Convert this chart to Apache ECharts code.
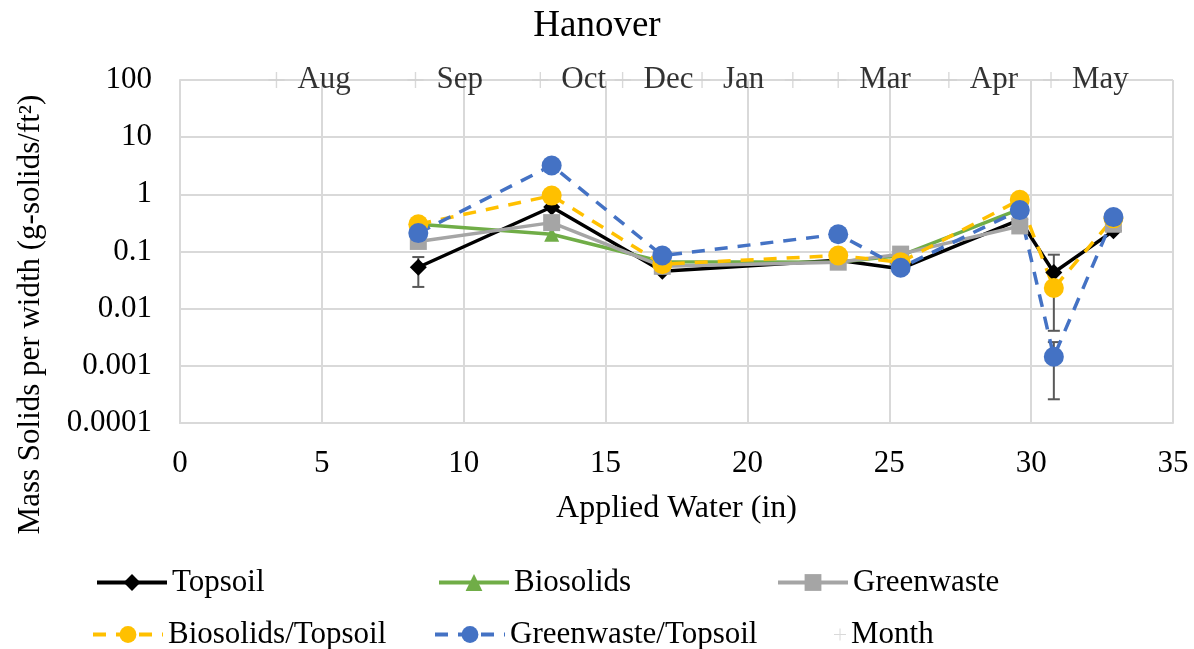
<!DOCTYPE html>
<html>
<head>
<meta charset="utf-8">
<script src="https://cdn.jsdelivr.net/npm/echarts@6/dist/echarts.min.js"></script>
<style>
  html, body { margin: 0; padding: 0; background: #fff; }
  #hanover { width: 1194px; height: 649px; }
</style>
</head>
<body>
<div id="hanover"></div>
<script>
// applied water (in) for each sampling event
const waterIn = [8.4, 13.1, 17.0, 23.2, 25.4, 29.6, 30.8, 32.9];
// mass solids per width (g-solids/ft2)
const topsoil = [0.053, 0.6, 0.045, 0.07, 0.05, 0.36, 0.043, 0.23];
const biosolids = [0.3, 0.2, 0.066, 0.065, 0.085, 0.55, null, 0.3];
const greenwaste = [0.15, 0.32, 0.055, 0.065, 0.09, 0.28, null, 0.3];
const biosolidsTopsoil = [0.3, 0.95, 0.06, 0.085, 0.065, 0.8, 0.023, 0.38];
const greenwasteTopsoil = [0.21, 3.2, 0.085, 0.2, 0.052, 0.53, 0.00144, 0.4];
// error bars: [x, low, high]
const errTopsoil = [[8.4, 0.024, 0.08], [30.8, 0.0041, 0.088]];
const errGreenwasteTopsoil = [[30.8, 0.00026, 0.0026]];
// month markers along the top
const monthX = [3.4, 8.3, 12.7, 15.6, 18.4, 21.6, 23.2, 27.1, 30.7];
const monthLabels = ['Aug', 'Sep', 'Oct', 'Dec', 'Jan', '', 'Mar', 'Apr', 'May'];
const yTickLabels = { '-4': '0.0001', '-3': '0.001', '-2': '0.01', '-1': '0.1', '0': '1', '1': '10', '2': '100' };

const FONT = '"Liberation Serif", "Times New Roman", serif';
const plusPath = 'path://M6.4,0h1.2v6.4h6.4v1.2h-6.4v6.4h-1.2v-6.4h-6.4v-1.2h6.4z';

function pairs(ys) {
  return waterIn.map((x, i) => [x, ys[i]]);
}

function errorSeries(data) {
  return {
    type: 'custom',
    z: 1,
    silent: true,
    data: data,
    encode: { x: 0, y: [1, 2] },
    renderItem: function (params, api) {
      const lo = api.coord([api.value(0), api.value(1)]);
      const hi = api.coord([api.value(0), api.value(2)]);
      const w = 6;
      const style = { stroke: '#595959', lineWidth: 2 };
      return {
        type: 'group',
        children: [
          { type: 'line', shape: { x1: lo[0], y1: lo[1], x2: hi[0], y2: hi[1] }, style: style },
          { type: 'line', shape: { x1: lo[0] - w, y1: lo[1], x2: lo[0] + w, y2: lo[1] }, style: style },
          { type: 'line', shape: { x1: hi[0] - w, y1: hi[1], x2: hi[0] + w, y2: hi[1] }, style: style }
        ]
      };
    }
  };
}

function lineSeries(name, ys, color, symbol, size, dashed) {
  return {
    name: name,
    type: 'line',
    z: 3,
    data: pairs(ys),
    connectNulls: false,
    symbol: symbol,
    symbolSize: size,
    itemStyle: { color: color },
    lineStyle: { color: color, width: 3.5, type: dashed ? [13, 10] : 'solid' }
  };
}

function legendAt(name, left, top, w) {
  return {
    data: [name],
    left: left,
    top: top,
    itemWidth: w || 70,
    itemHeight: 21,
    itemGap: 0,
    lineStyle: { width: 4 },
    textStyle: { fontFamily: FONT, fontSize: 31, color: '#000' },
    selectedMode: false
  };
}

const chart = echarts.init(document.getElementById('hanover'));
chart.setOption({
  animation: false,
  textStyle: { fontFamily: FONT },
  title: {
    text: 'Hanover',
    left: 'center',
    top: 3,
    textStyle: { fontFamily: FONT, fontSize: 37, fontWeight: 'normal', color: '#000' }
  },
  grid: { left: 180, right: 21, top: 80, bottom: 226, outerBoundsMode: 'none', containLabel: false },
  legend: [
    legendAt('Topsoil', 90, 562),
    legendAt('Biosolids', 432, 562),
    legendAt('Greenwaste', 771, 562),
    legendAt('Biosolids/Topsoil', 86, 614),
    legendAt('Greenwaste/Topsoil', 428, 614),
    legendAt('Month', 829, 614, 12)
  ],
  xAxis: {
    type: 'value',
    min: 0,
    max: 35,
    interval: 5,
    name: 'Applied Water (in)',
    nameLocation: 'middle',
    nameGap: 70,
    nameTextStyle: { fontFamily: FONT, fontSize: 32, color: '#000' },
    axisLine: { show: true, lineStyle: { color: '#d9d9d9', width: 2 } },
    axisTick: { show: false },
    axisLabel: { fontFamily: FONT, fontSize: 31, color: '#000', margin: 25 },
    splitLine: { show: true, lineStyle: { color: '#d9d9d9', width: 2 } }
  },
  yAxis: {
    type: 'log',
    logBase: 10,
    min: 0.0001,
    max: 100,
    name: 'Mass Solids per width (g-solids/ft²)',
    nameLocation: 'middle',
    nameGap: 134,
    nameTextStyle: { fontFamily: FONT, fontSize: 31, color: '#000', padding: [0, 126, 0, 0] },
    axisLine: { show: true, lineStyle: { color: '#d9d9d9', width: 2 } },
    axisTick: { show: false },
    axisLabel: {
      fontFamily: FONT,
      fontSize: 31,
      color: '#000',
      margin: 28,
      formatter: v => yTickLabels[String(Math.round(Math.log10(v)))] || ''
    },
    splitLine: { show: true, lineStyle: { color: '#d9d9d9', width: 2 } }
  },
  series: [
    errorSeries(errTopsoil),
    errorSeries(errGreenwasteTopsoil),
    lineSeries('Topsoil', topsoil, '#000000', 'diamond', 17, false),
    lineSeries('Biosolids', biosolids, '#70ad47', 'triangle', 15, false),
    lineSeries('Greenwaste', greenwaste, '#a5a5a5', 'rect', 17, false),
    lineSeries('Biosolids/Topsoil', biosolidsTopsoil, '#ffc000', 'circle', 20, true),
    lineSeries('Greenwaste/Topsoil', greenwasteTopsoil, '#4472c4', 'circle', 20, true),
    {
      name: 'Month',
      type: 'scatter',
      z: 4,
      symbol: plusPath,
      symbolSize: 16,
      itemStyle: { color: '#d0d0d0' },
      data: monthX.map(x => [x, 100]),
      label: {
        show: true,
        position: 'right',
        distance: 13,
        fontFamily: FONT,
        fontSize: 31,
        color: '#000',
        formatter: p => monthLabels[p.dataIndex]
      }
    }
  ]
});
</script>
</body>
</html>
